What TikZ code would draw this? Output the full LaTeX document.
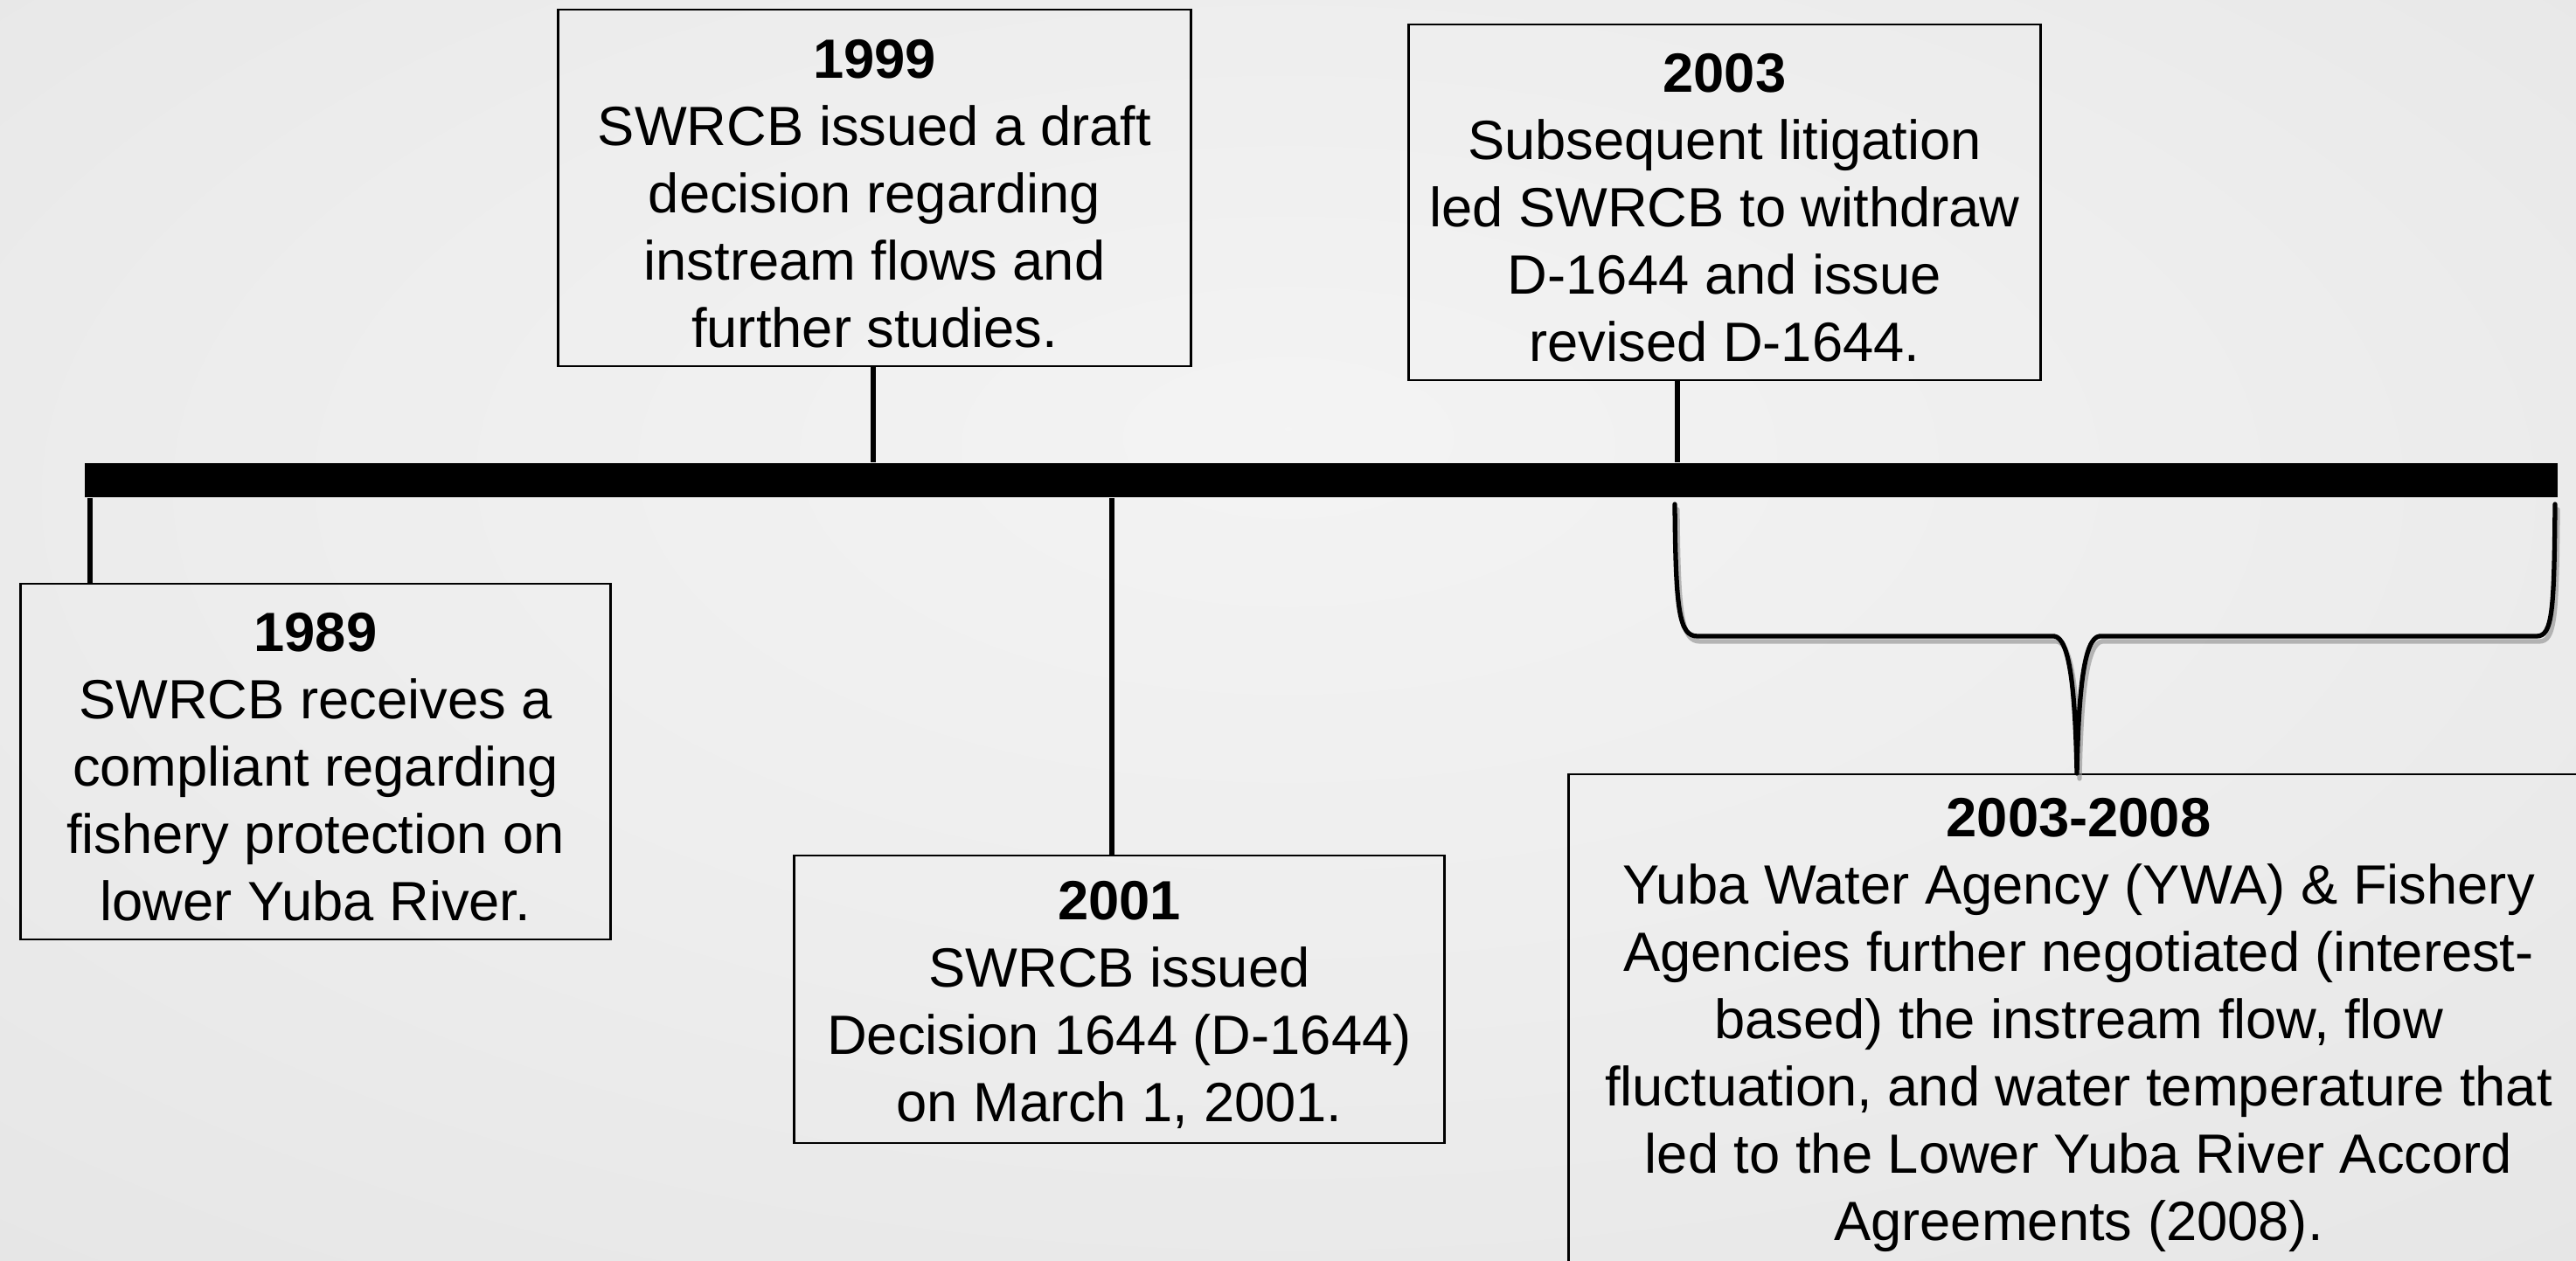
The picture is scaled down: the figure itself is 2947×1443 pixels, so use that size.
\documentclass[tikz,border=0pt]{standalone}
\usepackage{fontspec}
\setmainfont{Liberation Sans}
\pgfdeclareradialshading{bgshade}{\pgfpoint{0bp}{8bp}}{rgb(0bp)=(0.955,0.955,0.955); rgb(20bp)=(0.93,0.93,0.93); rgb(72bp)=(0.85,0.85,0.85)}
\newcommand\mybracepath{(1916,577) .. controls (1917,700) and (1921,728) .. (1942,728) -- (2350,728) .. controls (2368,730) and (2374,790) .. (2376,885) .. controls (2378,790) and (2384,730) .. (2402,728) -- (2902,728) .. controls (2920,728) and (2922,700) .. (2923,577)}
\newcommand\mytopstrut{\rule{0pt}{16.2pt}}
\begin{document}
\begin{tikzpicture}[x=0.01cm,y=-0.01cm,
  box/.style={draw=black, line width=0.75pt, inner sep=0pt, align=center,
    font=\fontsize{18}{21.9}\selectfont},
  conn/.style={line width=1.7pt},
  bracestyle/.style={line width=1.5pt, line cap=round, line join=round}]
\useasboundingbox (0,0) rectangle (2947,1443);
\shade[shading=bgshade] (0,0) rectangle (2947,1443);

\node[box, minimum width=6.74cm, minimum height=4.07cm] (b1989) at (361,871.5)
  {\mytopstrut\textbf{1989}\\SWRCB receives a\\compliant regarding\\fishery protection on\\lower Yuba River.};
\node[box, minimum width=7.23cm, minimum height=4.08cm] (b1999) at (1000.5,215)
  {\mytopstrut\textbf{1999}\\SWRCB issued a draft\\decision regarding\\instream flows and\\further studies.};
\node[box, minimum width=7.43cm, minimum height=3.29cm] (b2001) at (1280.5,1143.5)
  {\mytopstrut\textbf{2001}\\SWRCB issued\\Decision 1644 (D-1644)\\on March 1, 2001.};
\node[box, minimum width=7.22cm, minimum height=4.07cm] (b2003) at (1973,231.5)
  {\mytopstrut\textbf{2003}\\Subsequent litigation\\led SWRCB to withdraw\\D-1644 and issue\\revised D-1644.};
\node[box, minimum width=11.66cm, minimum height=5.62cm] (b0308) at (2378,1167)
  {\mytopstrut\textbf{2003-2008}\\Yuba Water Agency (YWA) \& Fishery\\Agencies further negotiated (interest-\\based) the instream flow, flow\\fluctuation, and water temperature that\\led to the Lower Yuba River Accord\\Agreements (2008).};

\node[fill=black, inner sep=0pt, minimum width=28.27cm, minimum height=0.39cm] (bar) at (1511.5,549.5) {};

\coordinate (t1989) at (103,0);
\coordinate (t1999) at (999,0);
\coordinate (t2001) at (1272,0);
\coordinate (t2003) at (1919,0);

\draw[conn] (bar.south -| t1989) -- (b1989.north -| t1989);
\draw[conn] (b1999.south -| t1999) -- (bar.north -| t1999);
\draw[conn] (bar.south -| t2001) -- (b2001.north -| t2001);
\draw[conn] (b2003.south -| t2003) -- (bar.north -| t2003);

\draw[bracestyle, black!45, opacity=0.6, shift={(3,6)}] \mybracepath;
\draw[bracestyle] \mybracepath;
\end{tikzpicture}
\end{document}
